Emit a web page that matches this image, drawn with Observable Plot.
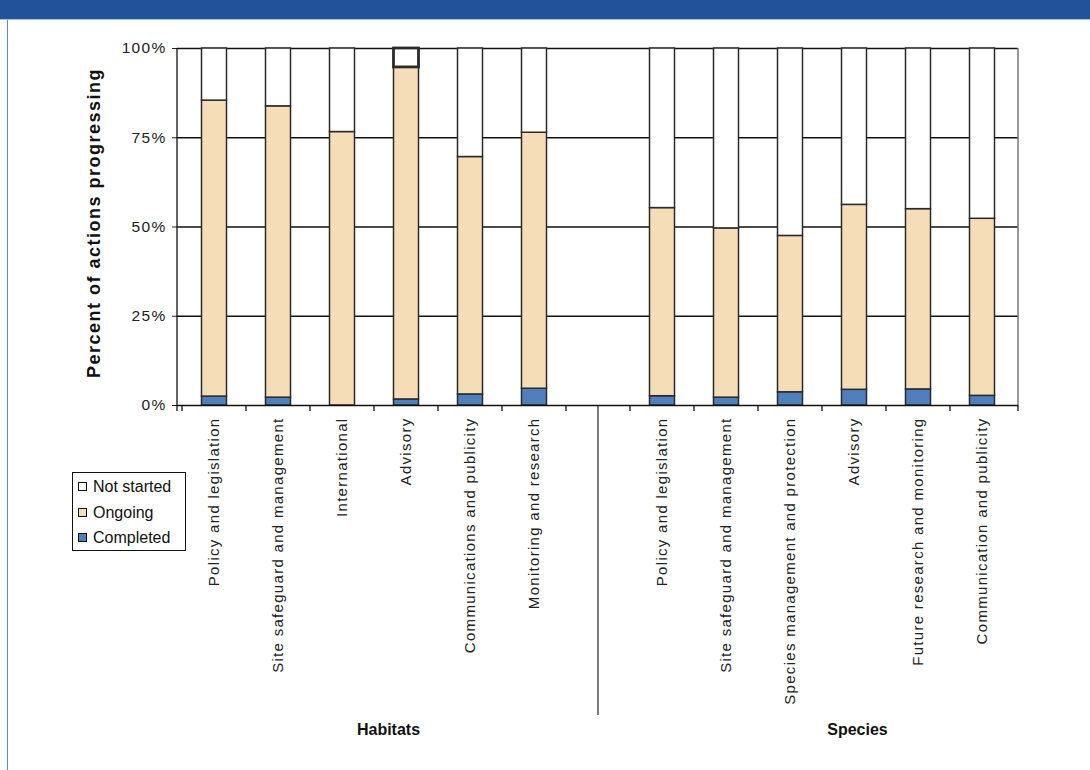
<!DOCTYPE html>
<html>
<head>
<meta charset="utf-8">
<script src="https://cdn.jsdelivr.net/npm/d3@7"></script>
<script src="https://cdn.jsdelivr.net/npm/@observablehq/plot@0.6"></script>
<style>
  html, body { margin: 0; padding: 0; background: #fff; }
  #page { position: relative; width: 1090px; height: 770px; overflow: hidden; background: #fff;
          font-family: "Liberation Sans", Arial, sans-serif; }
  #band { position: absolute; left: 0; top: 0; width: 1090px; height: 19px; background: #22539a;
          border-bottom: 1px solid #a8c2e4; }
  #edge { position: absolute; left: 7px; top: 20px; width: 1px; height: 750px; background: #5b8bd0; }
  #chart { position: absolute; left: 0; top: 0; }
  #legend { position: absolute; left: 72px; top: 472px; width: 112px; height: 77px;
            border: 1px solid #111; background: #fff; font-size: 16px; color: #111; }
  #legend .row { position: absolute; left: 5px; height: 20px; line-height: 20px; white-space: nowrap; }
  #legend .sw { display: inline-block; width: 7px; height: 7px; border: 1px solid #111;
                margin-right: 6px; vertical-align: 1px; }
</style>
</head>
<body>
<div id="page">
  <div id="band"></div>
  <div id="edge"></div>
  <div id="chart"></div>
  <div id="legend"></div>
</div>
<script>
// Action categories for each group of the biodiversity action plans
const habitatCategories = [
  "Policy and legislation",
  "Site safeguard and management",
  "International",
  "Advisory",
  "Communications and publicity",
  "Monitoring and research"
];
const speciesCategories = [
  "Policy and legislation",
  "Site safeguard and management",
  "Species management and protection",
  "Advisory",
  "Future research and monitoring",
  "Communication and publicity"
];

// Percent of actions in each state
const habitatCompleted  = [2.5, 2.2, 0.0, 1.7, 3.1, 4.7];
const habitatOngoing    = [82.9, 81.6, 76.6, 93.0, 66.5, 71.7];
const habitatNotStarted = [14.6, 16.2, 23.4, 5.3, 30.4, 23.6];

const speciesCompleted  = [2.6, 2.2, 3.7, 4.4, 4.5, 2.7];
const speciesOngoing    = [52.7, 47.4, 43.8, 51.8, 50.5, 49.6];
const speciesNotStarted = [44.7, 50.4, 52.5, 43.8, 45.0, 47.7];

const statuses = ["Completed", "Ongoing", "Not started"];
const statusColors = ["#4f7fbd", "#f5ddb7", "#ffffff"];
const groups = ["Habitats", "Species"];
const yTitle = "Percent of actions progressing";
const yTicks = [0, 25, 50, 75, 100];

// Unique keys for the band scale (category names repeat between groups),
// with one empty slot separating the two groups
const habitatKeys = habitatCategories.map((_, i) => "H" + i);
const speciesKeys = speciesCategories.map((_, i) => "S" + i);
const gapKey = "gap";
const keys = [...habitatKeys, gapKey, ...speciesKeys];
const labelOf = new Map([
  ...habitatKeys.map((k, i) => [k, habitatCategories[i]]),
  [gapKey, ""],
  ...speciesKeys.map((k, i) => [k, speciesCategories[i]])
]);

// Long table: one row per category and state, stacked bottom-up
const rows = [];
function addGroup(keyList, completed, ongoing, notStarted) {
  keyList.forEach((k, i) => {
    rows.push({key: k, status: "Completed", value: completed[i]});
    rows.push({key: k, status: "Ongoing", value: ongoing[i]});
    rows.push({key: k, status: "Not started", value: notStarted[i]});
  });
}
addGroup(habitatKeys, habitatCompleted, habitatOngoing, habitatNotStarted);
addGroup(speciesKeys, speciesCompleted, speciesOngoing, speciesNotStarted);

// Group caption under the middle of each group
const groupCaption = (name, key, dx) => Plot.text([name], {
  x: () => key,
  frameAnchor: "bottom",
  text: d => d,
  dy: 329,
  dx,
  fontSize: 16,
  fontWeight: "bold",
  fill: "#111"
});

const chart = Plot.plot({
  width: 1090,
  height: 770,
  marginLeft: 177,
  marginRight: 72,
  marginTop: 48,
  marginBottom: 365,
  style: {
    fontFamily: "'Liberation Sans', Arial, sans-serif",
    fontSize: "15px",
    color: "#222",
    background: "transparent",
    overflow: "visible"
  },
  x: {domain: keys, padding: 0, label: null},
  y: {domain: [0, 100], label: null},
  color: {domain: statuses, range: statusColors},
  marks: [
    Plot.gridY([25, 50, 75, 100], {stroke: "#111", strokeOpacity: 1, strokeWidth: 1.3}),
    Plot.barY(rows, {
      x: "key",
      y: "value",
      fill: "status",
      stroke: "#2b2b2b",
      strokeWidth: d => (d.key === "H3" && d.status === "Not started") ? 2.8 : 1.5,
      insetLeft: 19.5,
      insetRight: 19.5
    }),
    Plot.axisY({
      ticks: yTicks,
      tickFormat: d => d + "%",
      tickSize: 5,
      tickPadding: 6,
      fontSize: 15.5,
      label: null
    }),
    Plot.axisX({
      tickSize: 0,
      tickRotate: -90,
      tickPadding: 12,
      fontSize: 15,
      tickFormat: k => labelOf.get(k),
      label: null
    }),
    Plot.ruleY([0], {stroke: "#111", strokeWidth: 1.3}),
    Plot.text([yTitle], {
      frameAnchor: "left",
      textAnchor: "middle",
      text: d => d,
      rotate: -90,
      dx: -83,
      dy: -4,
      fontSize: 18,
      fontWeight: "bold",
      fill: "#111"
    }),
    groupCaption(groups[0], habitatKeys[3], -18),
    groupCaption(groups[1], speciesKeys[3], 3)
  ]
});

// Spaced tick labels and axis title
d3.select(chart).selectAll("g[aria-label='x-axis tick label'] text, g[aria-label='y-axis tick label'] text")
  .style("letter-spacing", "1.3px");
d3.select(chart).selectAll("text").filter(function() { return this.textContent === yTitle; })
  .style("letter-spacing", "1.5px");

// Frame lines, category boundary ticks and group separator, positioned from the scales
const sx = chart.scale("x");
const sy = chart.scale("y");
const x0 = sx.range[0], x1 = sx.range[1];
const yBase = sy.apply(0), yTop = sy.apply(100);
const deco = d3.select(chart).append("g").attr("fill", "none");
deco.append("line").attr("x1", x0).attr("x2", x0).attr("y1", yTop).attr("y2", yBase + 6)
  .attr("stroke", "#111").attr("stroke-width", 1.3);
deco.append("line").attr("x1", x1).attr("x2", x1).attr("y1", yTop).attr("y2", yBase)
  .attr("stroke", "#777").attr("stroke-width", 1.5);
const bounds = keys.map(k => sx.apply(k)).concat([x1]);
deco.selectAll("line.b").data(bounds).join("line")
  .attr("class", "b")
  .attr("x1", d => d).attr("x2", d => d)
  .attr("y1", yBase).attr("y2", yBase + 6)
  .attr("stroke", "#111").attr("stroke-width", 1.3);
const sepX = sx.apply(gapKey) + sx.bandwidth / 2;
deco.append("line").attr("x1", sepX).attr("x2", sepX).attr("y1", yBase).attr("y2", yBase + 310)
  .attr("stroke", "#222").attr("stroke-width", 1.2);

document.getElementById("chart").appendChild(chart);

// Legend: top-down order as in the stack
const legend = d3.select("#legend");
[...statuses].reverse().forEach((s, i) => {
  const row = legend.append("div").attr("class", "row").style("top", (4 + i * 25.5) + "px");
  row.append("span").attr("class", "sw").style("background", statusColors[statuses.indexOf(s)]);
  row.append("span").text(s);
});
</script>
</body>
</html>
